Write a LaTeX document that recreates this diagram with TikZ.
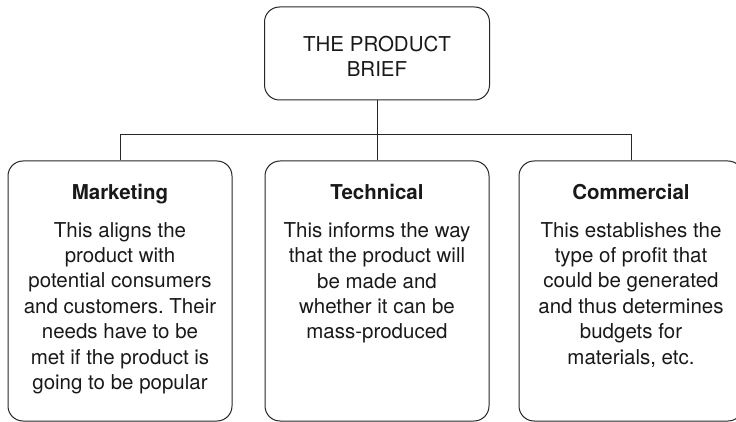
\documentclass[tikz,border=0pt]{standalone}
\usepackage{fontspec}
\setmainfont{TeX Gyre Heros}
\frenchspacing
\begin{document}
\begin{tikzpicture}[x=1pt, y=-1pt,
  box/.style={draw=black!85, line width=1pt, rounded corners=15pt,
    inner sep=0pt, minimum width=224pt},
  tbox/.style={box, minimum width=225pt, minimum height=93pt},
  cbox/.style={box, minimum height=260pt},
  heading/.style={font=\fontsize{20.5}{25.4}\selectfont\bfseries, text=black!90,
    inner sep=0pt, anchor=base},
  body/.style={font=\fontsize{20.5}{25.4}\selectfont, text=black!90,
    align=center, inner sep=0pt, anchor=north},
  link/.style={draw=black!85, line width=1pt}]
\useasboundingbox (0,0) rectangle (736,422);

% the brief and its three parts
\node[tbox] (brief) at (377,53.5) {};
\node[body] (brieftxt) at (377,36) {THE PRODUCT\\BRIEF};

\node[cbox] (mkt)  at (120,291) {};
\node[cbox] (tech) at (377,291) {};
\node[cbox] (comm) at (631,291) {};

% connectors
\coordinate (hub) at (377,135);
\draw[link] (brief.south) -- (tech.north);
\draw[link] (mkt.north) -- (mkt.north |- hub) -- (comm.north |- hub) -- (comm.north);

% texts
\node[heading] (mkth) at (120,200) {Marketing};
\node[body] (mktb) at (120,222) {This aligns the\\product with\\potential consumers\\and customers. Their\\needs have to be\\met if the product is\\going to be popular};

\node[heading] (techh) at (377,200) {Technical};
\node[body] (techb) at (377,222) {This informs the way\\that the product will\\be made and\\whether it can be\\mass-produced};

\node[heading] (commh) at (631,200) {Commercial};
\node[body] (commb) at (631,222) {This establishes the\\type of profit that\\could be generated\\and thus determines\\budgets for\\materials, etc.};
\end{tikzpicture}
\end{document}
